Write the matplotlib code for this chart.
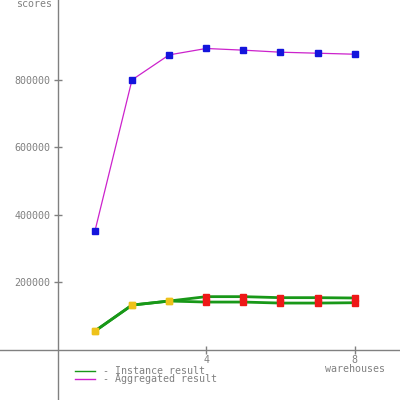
import matplotlib
matplotlib.use("Agg")
import matplotlib.pyplot as plt
from matplotlib.lines import Line2D

warehouses = [1, 2, 3, 4, 5, 6, 7, 8]
aggregated = [352000, 800000, 874000, 893000, 888000, 882000, 879000, 876000]
instance_a = [56000, 133000, 145000, 158000, 158000, 155000, 155000, 154000]
instance_b = [56000, 133000, 145000, 142000, 142000, 139000, 139000, 140000]
counted_from = 4  # first warehouse count whose points are counted (red)
y_ticks = [200000, 400000, 600000, 800000]
y_tick_labels = ["200000", "400000", "600000", "800000"]
x_ticks = [4, 8]
x_tick_labels = ["4", "8"]
legend_labels = ["- Instance result", "- Aggregated result"]

GRAY = "#808080"
GREEN = "#189818"
MAGENTA = "#cc22cc"
BLUE = "#1414dc"
YELLOW = "#eec21a"
RED = "#ee1818"
FONT = "DejaVu Sans Mono"
FS = 7.2

fig = plt.figure(figsize=(4, 4), dpi=100)
ax = fig.add_axes([0, 0, 1, 1])
ax.set_xlim(-57.8 / 37.1, 342.2 / 37.1)
ax.set_ylim(-148083, 1036576)

for spine in ("top", "right"):
    ax.spines[spine].set_visible(False)
for spine in ("left", "bottom"):
    ax.spines[spine].set_position(("data", 0))
    ax.spines[spine].set_color(GRAY)
    ax.spines[spine].set_linewidth(1.0)

ax.set_xticks(x_ticks)
ax.set_xticklabels(x_tick_labels, fontfamily=FONT, fontsize=FS, color=GRAY)
ax.set_yticks(y_ticks)
ax.set_yticklabels(y_tick_labels, fontfamily=FONT, fontsize=FS, color=GRAY)
ax.tick_params(axis="x", direction="inout", length=6, width=1, color=GRAY, pad=0.3)
ax.tick_params(axis="y", direction="inout", length=6, width=1, color=GRAY, pad=2.5)

# instance lines
for inst in (instance_a, instance_b):
    ax.plot(warehouses, inst, color=GREEN, lw=2.0, solid_capstyle="butt", zorder=2)
    early_x = [w for w in warehouses if w < counted_from]
    early_y = [v for w, v in zip(warehouses, inst) if w < counted_from]
    late_x = [w for w in warehouses if w >= counted_from]
    late_y = [v for w, v in zip(warehouses, inst) if w >= counted_from]
    ax.plot(early_x, early_y, ls="none", marker="s", ms=4.2, color=YELLOW, mec=YELLOW, zorder=3)
    ax.plot(late_x, late_y, ls="none", marker="s", ms=4.2, color=RED, mec=RED, zorder=3)

# aggregated line
ax.plot(warehouses, aggregated, color=MAGENTA, lw=0.9, zorder=2)
ax.plot(warehouses, aggregated, ls="none", marker="s", ms=4.2, color=BLUE, mec=BLUE, zorder=3)

def px(x, y):
    return x / 400.0, 1 - y / 400.0

fig.text(*px(52, 4), "scores", ha="right", va="center", fontfamily=FONT, fontsize=FS, color=GRAY)
fig.text(*px(355, 369.5), "warehouses", ha="center", va="center", fontfamily=FONT, fontsize=FS, color=GRAY)

# legend
for i, (lab, col) in enumerate(zip(legend_labels, (GREEN, MAGENTA))):
    yy = 370.5 + i * 8.5
    x0, y0 = px(75, yy)
    x1, _ = px(95, yy)
    fig.add_artist(Line2D([x0, x1], [y0, y0], color=col, lw=1.0, transform=fig.transFigure))
    fig.text(*px(103, yy), lab, ha="left", va="center", fontfamily=FONT, fontsize=FS, color=GRAY)

fig.savefig("out.png", dpi=100)
